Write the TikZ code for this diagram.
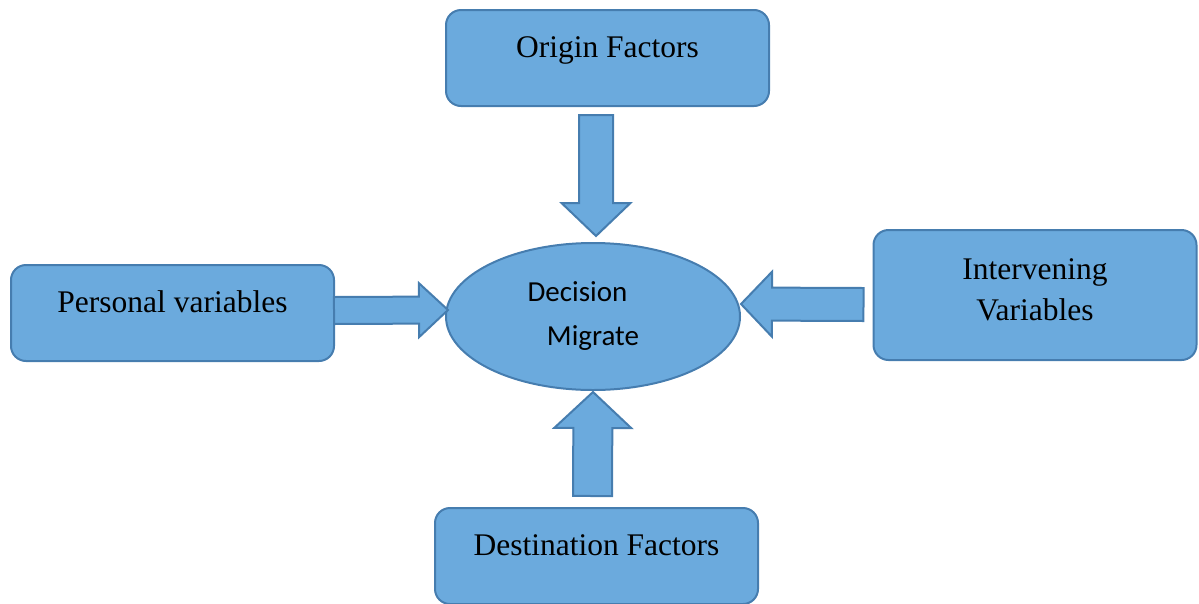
\documentclass[tikz,border=0pt]{standalone}
\usepackage{fontspec}
\setmainfont{Liberation Serif}
\newfontfamily\calibrifont{Carlito}
\usetikzlibrary{calc}
\usetikzlibrary{shapes.geometric}

\definecolor{boxblue}{RGB}{107,170,221}
\definecolor{edgeblue}{RGB}{70,125,175}

\begin{document}
\begin{tikzpicture}[x=1pt, y=-1pt,
    factor/.style={shape=rectangle, rounded corners=15pt, draw=edgeblue, fill=boxblue,
      line width=2pt, minimum width=323pt, inner sep=0pt, text height=47pt, text depth=49pt,
      font=\fontsize{31.5}{41}\selectfont},
    blockarrow/.style n args={3}{draw=edgeblue, fill=boxblue, line width=2pt,
      to path={($(\tikztostart)!#1!90:(\tikztotarget)$)
        -- ($(\tikztotarget)!#3!(\tikztostart)!#1!90:(\tikztotarget)$)
        -- ($(\tikztotarget)!#3!(\tikztostart)!#2!90:(\tikztotarget)$)
        -- (\tikztotarget)
        -- ($(\tikztotarget)!#3!(\tikztostart)!#2!-90:(\tikztotarget)$)
        -- ($(\tikztotarget)!#3!(\tikztostart)!#1!-90:(\tikztotarget)$)
        -- ($(\tikztostart)!#1!-90:(\tikztotarget)$) -- cycle}}]
    \useasboundingbox (0,0) rectangle (1199,603);

    % the four factor boxes
    \node[factor] (origin) at (607.5,58) {Origin Factors};
    \node[factor] (personal) at (172.5,313) {Personal variables};
    \node[factor, align=center, text height=90pt, text depth=40pt] (intervening) at (1035,295) {Intervening\\Variables};
    \node[factor] (destination) at (596.5,556) {Destination Factors};

    % the decision in the middle
    \node[shape=ellipse, draw=edgeblue, fill=boxblue, line width=2pt, minimum width=294pt,
      minimum height=147pt, inner sep=0pt, align=center,
      font=\calibrifont\fontsize{29}{44}\selectfont] (decision) at (593,316.5) {Decision\hspace*{31pt}\\Migrate};

    % ends of the block arrows
    \coordinate (otail) at ($(origin.south)+(-11.5,8)$);
    \coordinate (otip) at ($(decision.north)+(3,-6)$);
    \coordinate (ptail) at ($(personal.east)+(-1,-2.5)$);
    \coordinate (ptip) at ($(decision.west)+(3,-6.5)$);
    \coordinate (itail) at ($(intervening.west)+(-9,9.5)$);
    \coordinate (itip) at ($(decision.east)+(0,-12.5)$);
    \coordinate (dtail) at ($(destination.north)+(-4,-11)$);
    \coordinate (dtip) at ($(decision.south)+(0,1)$);

    \draw[blockarrow={17pt}{34.5pt}{33pt}] (otail) to (otip);
    \draw[blockarrow={13.5pt}{27pt}{29pt}] (ptail) to (ptip);
    \draw[blockarrow={16.5pt}{32.5pt}{31pt}] (itail) to (itip);
    \draw[blockarrow={19.5pt}{38.5pt}{36pt}] (dtail) to (dtip);
\end{tikzpicture}
\end{document}
